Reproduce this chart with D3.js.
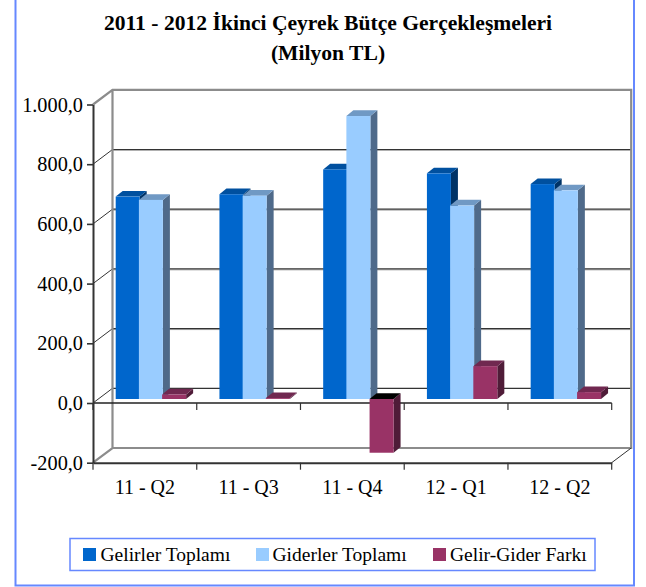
<!DOCTYPE html>
<html lang="tr"><head><meta charset="utf-8">
<script src="https://cdn.jsdelivr.net/npm/d3@7/dist/d3.min.js"></script>
<style>html,body{margin:0;padding:0;background:#fff}svg{display:block}text{font-family:"Liberation Serif","Times New Roman",serif;fill:#000}</style>
</head><body><svg id="c" width="646" height="587"></svg>
<script>
const categories = ["11 - Q2","11 - Q3","11 - Q4","12 - Q1","12 - Q2"];
const seriesNames = ["Gelirler Toplamı","Giderler Toplamı","Gelir-Gider Farkı"];
const gelirler = [678,686,769,756,720];
const giderler = [667,681,948,648,699];
const fark = [15,3,-180,110,23];
const yTicks = [-200,0,200,400,600,800,1000];
const titleLines = ["2011 - 2012 İkinci Çeyrek Bütçe Gerçekleşmeleri","(Milyon TL)"];

const seriesValues = [gelirler,giderler,fark];
const faceColors = ["#0066cc","#99ccff","#993366"];
const topColors = ["#00509f","#7099c4","#702850"];
const sideColors = ["#003366","#4f6a8a","#4f1c38"];
const legendSwatchX = [83,256,433];
const legendTextX = [100.5,272.5,450];

const svg = d3.select("#c");
const fmt = d3.formatLocale({decimal:",",thousands:".",grouping:[3],currency:["",""],minus:"-"}).format(",.1f");

const left=93, right=611.7, wallDx=19.5, wallDy=-14.7;
const y = d3.scaleLinear().domain([-200,1000]).range([462.7,104.5]);
const x = d3.scaleBand().domain(categories).range([left,right]);
const dark="#333", grey="#8c8c8c";

// frame
svg.append("path").attr("d","M15.5,-2V585.5H634V-2").attr("fill","none").attr("stroke","#6688ff").attr("stroke-width",2);

// title
svg.append("g").selectAll("text").data(titleLines).join("text")
  .attr("x",328).attr("y",(d,i)=>30+i*30).attr("text-anchor","middle")
  .attr("font-size",21.6).attr("font-weight","bold").text(d=>d);

// back-wall gridlines
const wall = svg.append("g");
yTicks.slice(2,6).forEach(t=>{
  wall.append("line").attr("x1",left+wallDx).attr("x2",right+wallDx)
    .attr("y1",y(t)+wallDy+1).attr("y2",y(t)+wallDy+1).attr("stroke","#b0b0b0").attr("stroke-width",1);
});
yTicks.slice(1,6).forEach(t=>{
  wall.append("line").attr("x1",left+wallDx).attr("x2",right+wallDx)
    .attr("y1",y(t)+wallDy).attr("y2",y(t)+wallDy).attr("stroke",dark).attr("stroke-width",1.2);
});
// left wall diagonals
yTicks.slice(1,6).forEach(t=>{
  wall.append("line").attr("x1",left).attr("x2",left+wallDx)
    .attr("y1",y(t)).attr("y2",y(t)+wallDy).attr("stroke",dark).attr("stroke-width",1);
});
// wall outline
wall.append("path")
  .attr("d",`M${left},${y(1000)}L${left+wallDx},${y(1000)+wallDy}H${right+wallDx}V${y(-200)+wallDy}H${left+wallDx}L${left},${y(-200)}M${left+wallDx},${y(1000)+wallDy}V${y(-200)+wallDy}`)
  .attr("fill","none").attr("stroke",grey).attr("stroke-width",2.2);
wall.append("line").attr("x1",right).attr("x2",right+wallDx).attr("y1",y(-200)).attr("y2",y(-200)+wallDy)
  .attr("stroke",dark).attr("stroke-width",1);

// front zero line + axes
const xAxis = d3.axisBottom(x).tickSize(0).tickPadding(17);
svg.append("line").attr("x1",left).attr("x2",right).attr("y1",y(0)).attr("y2",y(0)).attr("stroke","#222").attr("stroke-width",1.3);
x.domain().concat(["_end"]).forEach((c,i)=>{
  const px = left + i*x.bandwidth();
  svg.append("line").attr("x1",px).attr("x2",px).attr("y1",y(0)).attr("y2",y(0)+7).attr("stroke",dark).attr("stroke-width",1.2);
  svg.append("line").attr("x1",px).attr("x2",px).attr("y1",y(-200)).attr("y2",y(-200)+7).attr("stroke",dark).attr("stroke-width",1.2);
});
const gx = svg.append("g").attr("transform",`translate(0,${y(-200)})`).call(xAxis);
gx.select(".domain").attr("stroke",dark).attr("stroke-width",2);
gx.selectAll("text").attr("font-size",20).attr("dy","0.71em").style("font-family",'"Liberation Serif",serif');

const gy = svg.append("g").attr("transform",`translate(${left},0)`)
  .call(d3.axisLeft(y).tickValues(yTicks).tickFormat(fmt).tickSize(6).tickPadding(4).tickSizeOuter(0));
gy.select(".domain").attr("stroke",dark).attr("stroke-width",2);
gy.selectAll(".tick line").attr("stroke",dark).attr("stroke-width",1.6);
gy.selectAll("text").attr("font-size",20.3).style("font-family",'"Liberation Serif",serif');

// bars
const bars = svg.append("g");
const inner = d3.scaleLinear().domain([0,1]).range([22.7,45.9]);
const barW = 24, depthX = 7, depthY = -5.7, barShiftY = -4;
const by = v => y(v)+barShiftY;
categories.forEach((c,ci)=>{
  seriesValues.forEach((vals,si)=>{
    const v = vals[ci];
    const x0 = x(c)+inner(si), x1 = x0+barW;
    const yT = by(Math.max(v,0)), yB = by(Math.min(v,0));
    bars.append("path").attr("d",`M${x1},${yT}L${x1+depthX},${yT+depthY}V${yB+depthY}L${x1},${yB}Z`).attr("fill",sideColors[si]);
    bars.append("path").attr("d",`M${x0},${yT}L${x0+depthX},${yT+depthY}H${x1+depthX}L${x1},${yT}Z`).attr("fill",v<0?"#000":topColors[si]);
    bars.append("rect").attr("x",x0).attr("y",yT).attr("width",barW).attr("height",yB-yT).attr("fill",faceColors[si]);
  });
});

// legend
svg.append("rect").attr("x",70).attr("y",538.5).attr("width",525).attr("height",32).attr("fill","#fff").attr("stroke","#6688ff").attr("stroke-width",1.5);
const lg = svg.append("g").selectAll("g").data(seriesNames).join("g");
lg.append("rect").attr("x",(d,i)=>legendSwatchX[i]).attr("y",548).attr("width",13).attr("height",13).attr("fill",(d,i)=>faceColors[i]);
lg.append("text").attr("x",(d,i)=>legendTextX[i]).attr("y",561).attr("font-size",19.5).text(d=>d);
</script></body></html>
